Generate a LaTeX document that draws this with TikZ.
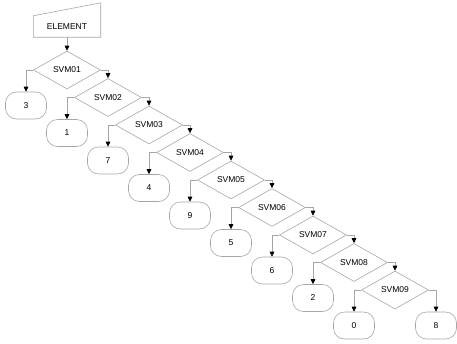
\documentclass[tikz,border=0pt]{standalone}
\usepackage{fontspec}
\setmainfont{Liberation Sans}
\usetikzlibrary{shapes.geometric,arrows.meta,calc}
\begin{document}
\begin{tikzpicture}[x=1pt,y=-1pt,
  every node/.style={font=\fontsize{8.5}{10}\selectfont, text=black},
  dec/.style={draw=gray!70, line width=0.6pt, diamond, aspect=1.76, minimum width=67pt, minimum height=38pt, inner sep=0pt},
  term/.style={draw=gray!70, line width=0.6pt, rectangle, rounded corners=11pt, minimum width=41pt, minimum height=27pt, inner sep=0pt},
  arr/.style={draw=gray!70, line width=0.6pt, -{Triangle[black,length=5pt,width=4.6pt]}}
]
\useasboundingbox (0,0) rectangle (457,343);
% element (manual input)
\node[minimum width=67pt, minimum height=21pt, inner sep=0pt] (el) at (67,26.5) {ELEMENT};
\draw[gray!70, line width=0.6pt] (el.south west) -- (el.south east) -- ($(el.north east)+(0,-13)$) -- (el.north west) -- cycle;
% decisions
\foreach \i/\lab in {1/3,2/1,3/7,4/4,5/9,6/5,7/6,8/2,9/0}{
  \node[dec] (d\i) at ({67+41*(\i-1)},{70+27.5*(\i-1)}) {SVM0\i};
  \node[term] (b\i) at ({26+41*(\i-1)},{105.5+27.5*(\i-1)}) {\lab};
}
\node[term] (b10) at (436,325.5) {8};
\draw[arr] (el) -- (d1);
\foreach \i in {1,...,9}{
  \draw[arr] (d\i.west) -| (b\i);
}
\foreach \i/\j in {1/2,2/3,3/4,4/5,5/6,6/7,7/8,8/9}{
  \draw[arr] (d\i.east) -| (d\j);
}
\draw[arr] (d9.east) -| (b10);
\end{tikzpicture}
\end{document}
